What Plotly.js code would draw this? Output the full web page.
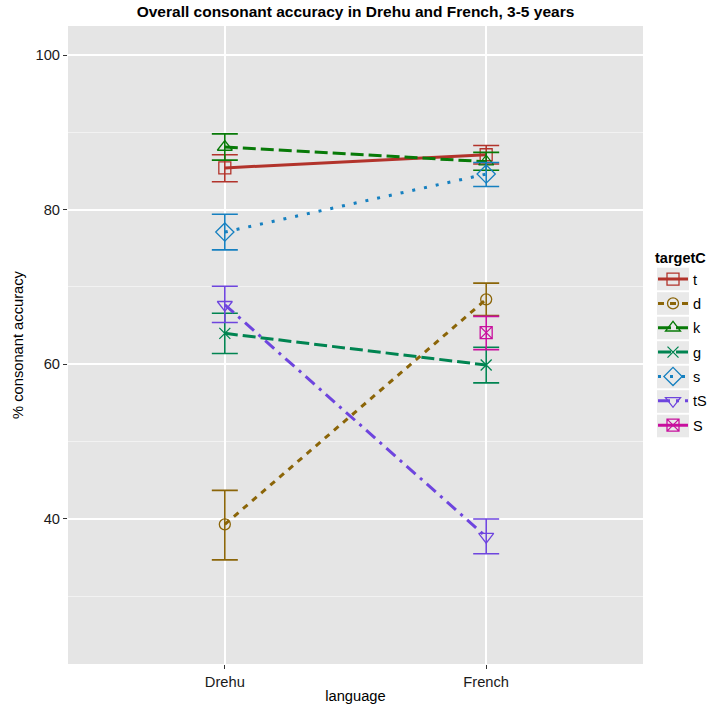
<!DOCTYPE html>
<html>
<head>
<meta charset="utf-8">
<script src="https://cdn.plot.ly/plotly-3.0.1.min.js"></script>
<style>html,body{margin:0;padding:0;background:#fff}#chart{width:721px;height:704px}</style>
</head>
<body>
<div id="chart"></div>
<script>
const languages = ["Drehu", "French"];
const targets = ["t", "d", "k", "g", "s", "tS", "S"];
const tVals = [85.4, 87.1];  const tHi = [87.1, 88.3];  const tLo = [83.6, 85.9];
const dVals = [39.3, 68.4];  const dHi = [43.7, 70.5];  const dLo = [34.7, 66.3];
const kVals = [88.1, 86.2];  const kHi = [89.8, 87.4];  const kLo = [86.4, 85.1];
const gVals = [64.0, 59.9];  const gHi = [66.6, 62.2];  const gLo = [61.4, 57.6];
const sVals = [77.1, 84.6];  const sHi = [79.4, 86.1];  const sLo = [74.8, 83.0];
const tSVals = [67.7, 37.7]; const tSHi = [70.1, 40.0]; const tSLo = [65.4, 35.5];
const SLangs = ["French"];
const SVals = [64.1];        const SHi = [66.2];        const SLo = [61.9];

const series = [
  {name: "t",  x: languages, v: tVals,  hi: tHi,  lo: tLo,  color: "#B2332B", dash: "solid", sym: "square-open", size: 12},
  {name: "d",  x: languages, v: dVals,  hi: dHi,  lo: dLo,  color: "#8B6508", dash: "6px,6px", sym: "circle-open", size: 11},
  {name: "k",  x: languages, v: kVals,  hi: kHi,  lo: kLo,  color: "#087A08", dash: "13px,5px", sym: "triangle-up-open", size: 13},
  {name: "g",  x: languages, v: gVals,  hi: gHi,  lo: gLo,  color: "#008451", dash: "13px,5px", sym: "x-thin-open", size: 11},
  {name: "s",  x: languages, v: sVals,  hi: sHi,  lo: sLo,  color: "#1680C0", dash: "3px,9px", sym: "diamond-open", size: 14},
  {name: "tS", x: languages, v: tSVals, hi: tSHi, lo: tSLo, color: "#6E45DE", dash: "12px,6px,3px,6px", sym: "triangle-down-open", size: 13},
  {name: "S",  x: SLangs,    v: SVals,  hi: SHi,  lo: SLo,  color: "#C8109E", dash: "solid", sym: "square-x-open", size: 12}
];

const traces = series.map(s => ({
  type: "scatter",
  mode: "lines+markers",
  name: s.name,
  legendgroup: s.name,
  x: s.x,
  y: s.v,
  line: {color: s.color, width: 3, dash: s.dash},
  marker: {symbol: s.sym, size: s.size, color: s.color, line: {color: s.color, width: 1.3}},
  error_y: {
    type: "data", symmetric: false,
    array: s.hi.map((h, i) => h - s.v[i]),
    arrayminus: s.lo.map((l, i) => s.v[i] - l),
    color: s.color, thickness: 1.6, width: 13
  }
}));

// legend key backgrounds (decoration, paper coordinates)
const plotL = 68, plotW = 575, plotT = 26, plotH = 638;
const keyShapes = targets.map((t, i) => {
  const cy = 279 + i * 24.5;
  return {
    type: "rect", xref: "paper", yref: "paper", layer: "above",
    x0: (657 - plotL) / plotW, x1: (689 - plotL) / plotW,
    y0: (plotT + plotH - (cy + 11.3)) / plotH, y1: (plotT + plotH - (cy - 11.3)) / plotH,
    fillcolor: "#E9E9E9", line: {width: 0}
  };
});

const layout = {
  width: 721, height: 704,
  margin: {l: 68, r: 78, t: 26, b: 40, autoexpand: false},
  paper_bgcolor: "#ffffff",
  plot_bgcolor: "#E5E5E5",
  font: {family: "Liberation Sans, Arial, sans-serif", size: 14.7, color: "#000"},
  title: {text: "<b>Overall consonant accuracy in Drehu and French, 3-5 years</b>", x: 0.5, xref: "paper", xanchor: "center", y: 1, yref: "container", yanchor: "top", pad: {t: 6}, font: {size: 15.5, color: "#000"}},
  xaxis: {
    type: "category", categoryarray: languages, range: [-0.6, 1.6],
    showgrid: true, gridcolor: "#ffffff", gridwidth: 1.8,
    zeroline: false, showline: false,
    ticks: "outside", ticklen: 4, tickcolor: "#333333", tickwidth: 1,
    tickfont: {size: 14.7, color: "#1a1a1a"},
    title: {text: "language", font: {size: 14.7, color: "#000"}, standoff: 2}
  },
  yaxis: {
    range: [21.24, 103.75], tickvals: [40, 60, 80, 100],
    showgrid: true, gridcolor: "#ffffff", gridwidth: 1.8,
    minor: {tickvals: [30, 50, 70, 90], showgrid: true, gridcolor: "#F2F2F2", gridwidth: 1, ticks: ""},
    zeroline: false, showline: false,
    ticks: "outside", ticklen: 4, tickcolor: "#333333", tickwidth: 1,
    tickfont: {size: 14.7, color: "#1a1a1a"},
    title: {text: "% consonant accuracy", font: {size: 14.7, color: "#000"}, standoff: 8}
  },
  legend: {
    x: 1.0174, xanchor: "left", y: 0.5035, yanchor: "middle",
    title: {text: "<b>targetC</b>", font: {size: 14.5}},
    font: {size: 14.5}, itemwidth: 30, tracegroupgap: 2.5,
    bgcolor: "rgba(0,0,0,0)"
  },
  shapes: keyShapes,
  showlegend: true
};

Plotly.newPlot("chart", traces, layout, {displayModeBar: false, staticPlot: true});
</script>
</body>
</html>
